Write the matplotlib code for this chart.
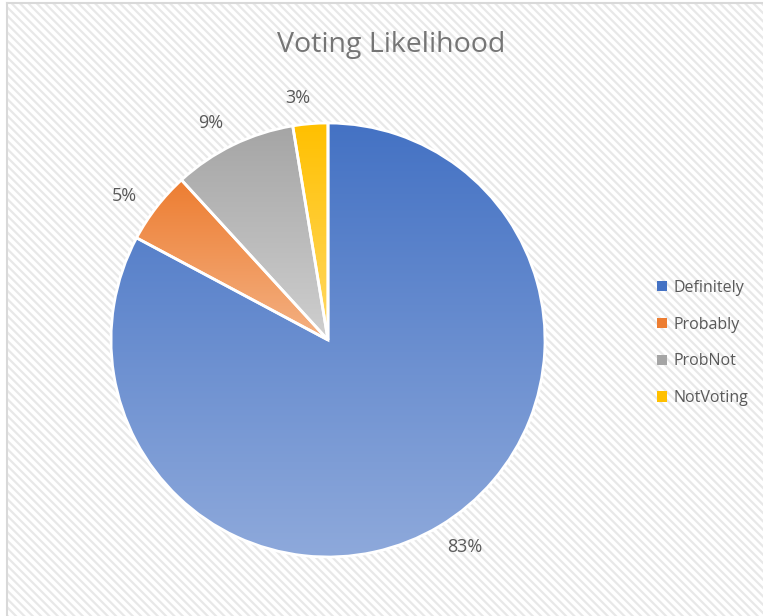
import numpy as np
import matplotlib.pyplot as plt
from matplotlib.patches import Rectangle, Patch
from matplotlib.colors import LinearSegmentedColormap

# Data
categories = ["Definitely", "Probably", "ProbNot", "NotVoting"]
shares = [82.8, 5.4, 9.2, 2.6]
top_colors = ["#4472C4", "#ED7D31", "#A5A5A5", "#FFC000"]
bottom_colors = ["#8EA9DB", "#F4B183", "#CFCFCF", "#FFD966"]
legend_colors = ["#4472C4", "#ED7D31", "#A5A5A5", "#FFC000"]
title = "Voting Likelihood"

W, H = 763, 616
fig = plt.figure(figsize=(W / 100, H / 100), dpi=100)
fig.patch.set_facecolor("white")

# Hatched chart background with a border on the left/top
plt.rcParams['hatch.linewidth'] = 1.6
bg = Rectangle((7 / W, 0), 1, 1 - 3 / H, transform=fig.transFigure,
               facecolor="white", edgecolor="#e8e8e8", hatch="\\\\\\\\",
               linewidth=0, zorder=-10)
fig.patches.append(bg)
fig.add_artist(plt.Line2D([7 / W, 7 / W], [0, 1 - 3 / H], color="#d9d9d9",
                          linewidth=1.5, transform=fig.transFigure, zorder=-5))
fig.add_artist(plt.Line2D([7 / W, 1], [1 - 3 / H, 1 - 3 / H], color="#d9d9d9",
                          linewidth=1.5, transform=fig.transFigure, zorder=-5))

# Pie axes placed by pixel centre and radius
cx, cy, r = 328, 340, 217
ax = fig.add_axes([(cx - r) / W, (H - cy - r) / H, 2 * r / W, 2 * r / H])
ax.set_facecolor("none")

wedges, texts, autotexts = ax.pie(
    shares, startangle=90, counterclock=False, colors=top_colors,
    autopct="%.0f%%", pctdistance=1.16, radius=1,
    wedgeprops=dict(edgecolor="white", linewidth=2),
    textprops=dict(color="#595959", fontsize=13, family="Open Sans"))
ax.set_aspect("equal")
ax.axis("off")

# Vertical gradient fill for each slice (dark at top, light at bottom)
grad = np.linspace(0, 1, 256).reshape(-1, 1)
for w, c0, c1 in zip(wedges, top_colors, bottom_colors):
    ext = w.get_path().get_extents()
    cmap = LinearSegmentedColormap.from_list("g", [c0, c1])
    im = ax.imshow(grad, cmap=cmap, aspect="auto", origin="upper",
                   extent=[ext.x0, ext.x1, ext.y0, ext.y1], zorder=1)
    im.set_clip_path(w)
    w.set_facecolor("none")
    w.set_zorder(2)
ax.set_xlim(-1, 1)
ax.set_ylim(-1, 1)

# Place labels just outside the edge, like "outside end" labels
gap, half_w, half_h = 17, 13, 8
for w, t in zip(wedges, autotexts):
    a = np.deg2rad((w.theta1 + w.theta2) / 2 + 2.5)
    d = r + gap + half_w * abs(np.cos(a)) + half_h * abs(np.sin(a))
    t.set_position((d / r * np.cos(a), d / r * np.sin(a)))
    t.set_ha("center")
    t.set_va("center")

fig.text(391 / W, 1 - 45 / H, title, ha="center", va="center",
         fontsize=20.5, color="#757575", family="Open Sans")

handles = [Patch(facecolor=c, edgecolor="none") for c in legend_colors]
leg = fig.legend(handles, categories, loc="center left",
                 bbox_to_anchor=(643 / W, 1 - 343 / H), frameon=False,
                 handlelength=0.6, handleheight=0.6, handletextpad=0.4,
                 labelspacing=1.3,
                 prop=dict(family="Open Sans", size=11.5))
for t in leg.get_texts():
    t.set_color("#595959")

fig.savefig("out.png", dpi=100)
